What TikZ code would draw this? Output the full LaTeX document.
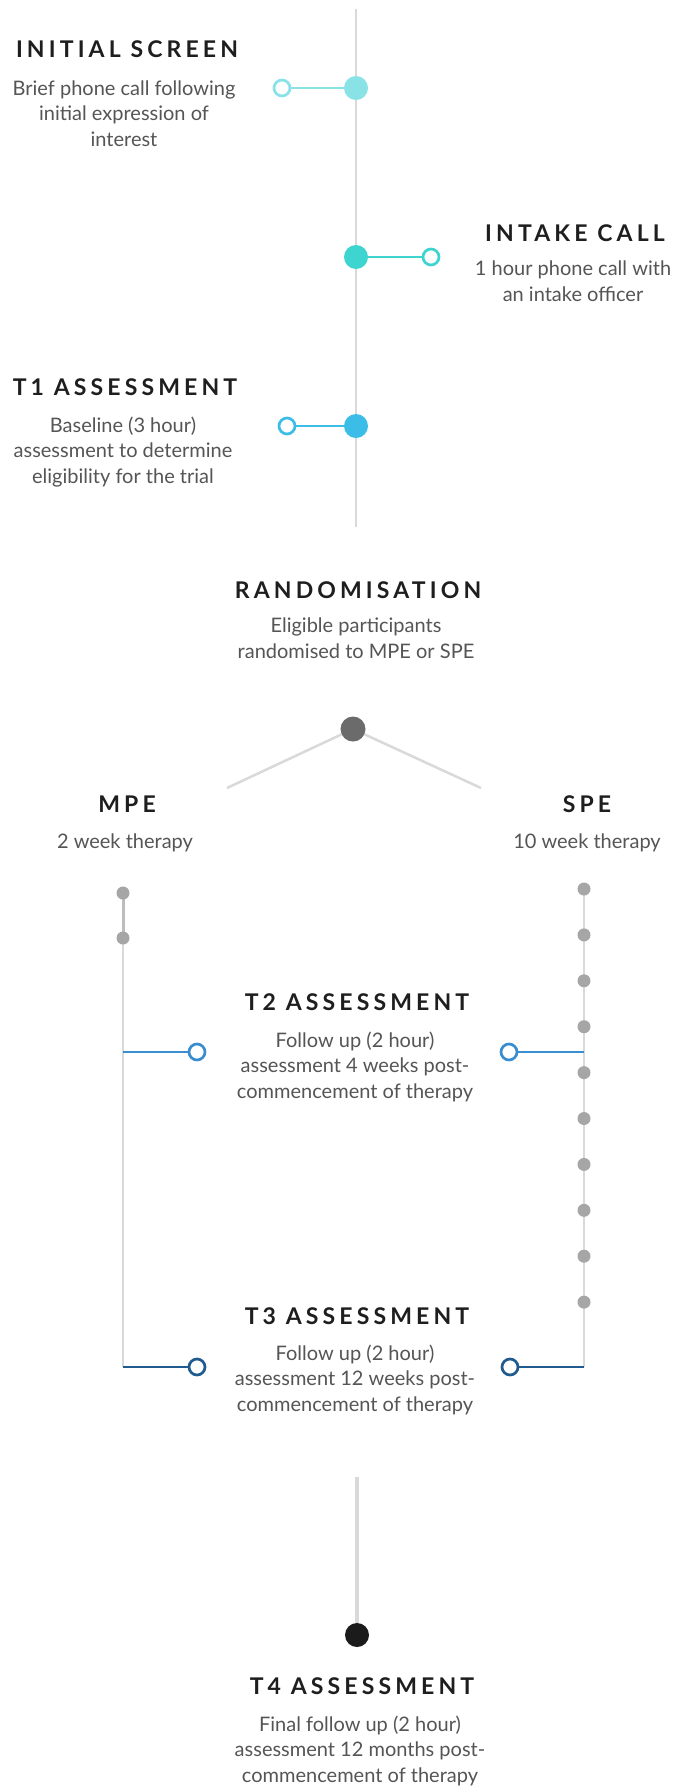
\documentclass[tikz,border=0pt]{standalone}
\usepackage{fontspec}
\setmainfont{Lato}
\newfontfamily\ttlfont[LetterSpace=18]{Lato}
\definecolor{cA}{HTML}{88E2E6}
\definecolor{cB}{HTML}{3ED5D1}
\definecolor{cC}{HTML}{3CBDE8}
\definecolor{cD}{HTML}{3A8ED0}
\definecolor{cE}{HTML}{1F5B8E}
\definecolor{spinegray}{HTML}{D9D9D9}
\definecolor{seggray}{HTML}{BDBDBD}
\definecolor{dotgray}{HTML}{A6A6A6}
\definecolor{randgray}{HTML}{6B6B6B}
\definecolor{enddot}{HTML}{1B1B1B}
\definecolor{ttlcol}{HTML}{1E1E1E}
\definecolor{desccol}{HTML}{555555}
\tikzset{
  ttl/.style={font=\ttlfont\bfseries\fontsize{23}{26}\selectfont, text=ttlcol, inner sep=0pt, anchor=base},
  desc/.style={font=\fontsize{20}{25.5}\selectfont, text=desccol, inner sep=0pt, align=center, anchor=base},
  bigdot/.style={circle, inner sep=0pt, minimum size=24pt, draw=none},
  smalldot/.style={circle, inner sep=0pt, minimum size=13pt, fill=dotgray, draw=none},
  ring/.style={circle, inner sep=0pt, minimum size=16pt, line width=2.7pt, fill=white},
  conn/.style={line width=2.8pt},
  spine/.style={line width=2.5pt, draw=spinegray},
}
\begin{document}
\begin{tikzpicture}[x=1pt,y=-1pt]
\useasboundingbox (0,0) rectangle (674,1789);
\fill[white] (0,0) rectangle (674,1789);

% main vertical line
\coordinate (mtop) at (356,9);
\coordinate (mbot) at (356,527);
\draw[spine] (mtop) -- (mbot);

% Initial screen (description base = last line baseline)
\node[ttl] (tInit) at (127,57) {INITIAL SCREEN};
\node[desc] (dInit) at (124,146) {Brief phone call following\\initial expression of\\interest};
\node[bigdot, fill=cA] (pInit) at (356,88) {};
\node[ring, draw=cA] (rInit) at (282,88) {};
\draw[conn, cA] (pInit) -- (rInit);

% Intake call
\node[ttl] (tIntake) at (575,241) {INTAKE CALL};
\node[desc] (dIntake) at (573,301) {1 hour phone call with\\an intake officer};
\node[bigdot, fill=cB] (pIntake) at (356,257) {};
\node[ring, draw=cB] (rIntake) at (431,257) {};
\draw[conn, cB] (pIntake) -- (rIntake);

% T1
\node[ttl] (tT1) at (125,395) {T1 ASSESSMENT};
\node[desc] (dT1) at (123,483) {Baseline (3 hour)\\assessment to determine\\eligibility for the trial};
\node[bigdot, fill=cC] (pT1) at (356,426) {};
\node[ring, draw=cC] (rT1) at (287,426) {};
\draw[conn, cC] (pT1) -- (rT1);

% Randomisation
\node[ttl] (tRand) at (358,598) {RANDOMISATION};
\node[desc] (dRand) at (356,658) {Eligible participants\\randomised to MPE or SPE};
\coordinate (bL) at (227,788);
\coordinate (bR) at (481,788);
\node[bigdot, fill=randgray, minimum size=25pt] (pRand) at (353,729) {};
\draw[spine] (pRand) -- (bL);
\draw[spine] (pRand) -- (bR);

% MPE / SPE labels
\node[ttl] (tMPE) at (127,812) {MPE};
\node[desc] (dMPE) at (125,848) {2 week therapy};
\node[ttl] (tSPE) at (587,812) {SPE};
\node[desc] (dSPE) at (587,848) {10 week therapy};

% MPE track
\coordinate (m1) at (123,893);
\coordinate (m2) at (123,938);
\coordinate (mJ2) at (123,1052);
\coordinate (mJ3) at (123,1367);
\draw[spine] (m2) -- (mJ3);
\draw[line width=3pt, seggray] (m1) -- (m2);
\node[smalldot] (mDot1) at (m1) {};
\node[smalldot] (mDot2) at (m2) {};

% SPE track
\coordinate (s0) at (584,889);
\coordinate (sJ2) at (584,1052);
\coordinate (sJ3) at (584,1367);
\draw[spine] (s0) -- (sJ3);
\foreach \k in {0,...,9} {
  \node[smalldot] (sDot\k) at (584,889+45.9*\k) {};
}

% T2
\node[ttl] (tT2) at (357,1010) {T2 ASSESSMENT};
\node[desc] (dT2) at (355,1098) {Follow up (2 hour)\\assessment 4 weeks post-\\commencement of therapy};
\node[ring, draw=cD] (rT2L) at (197,1052) {};
\node[ring, draw=cD] (rT2R) at (509,1052) {};
\draw[conn, cD] (mJ2) -- (rT2L);
\draw[conn, cD] (rT2R) -- (sJ2);

% T3
\node[ttl] (tT3) at (357,1324) {T3 ASSESSMENT};
\node[desc] (dT3) at (355,1411) {Follow up (2 hour)\\assessment 12 weeks post-\\commencement of therapy};
\node[ring, draw=cE] (rT3L) at (197,1367) {};
\node[ring, draw=cE] (rT3R) at (510,1367) {};
\draw[conn, cE] (mJ3) -- (rT3L);
\draw[conn, cE] (rT3R) -- (sJ3);

% T4
\coordinate (bTop) at (357,1477);
\node[bigdot, fill=enddot] (pT4) at (357,1635) {};
\draw[line width=4pt, spinegray] (bTop) -- (pT4);
\node[ttl] (tT4) at (362,1694) {T4 ASSESSMENT};
\node[desc] (dT4) at (360,1782) {Final follow up (2 hour)\\assessment 12 months post-\\commencement of therapy};
\end{tikzpicture}
\end{document}
